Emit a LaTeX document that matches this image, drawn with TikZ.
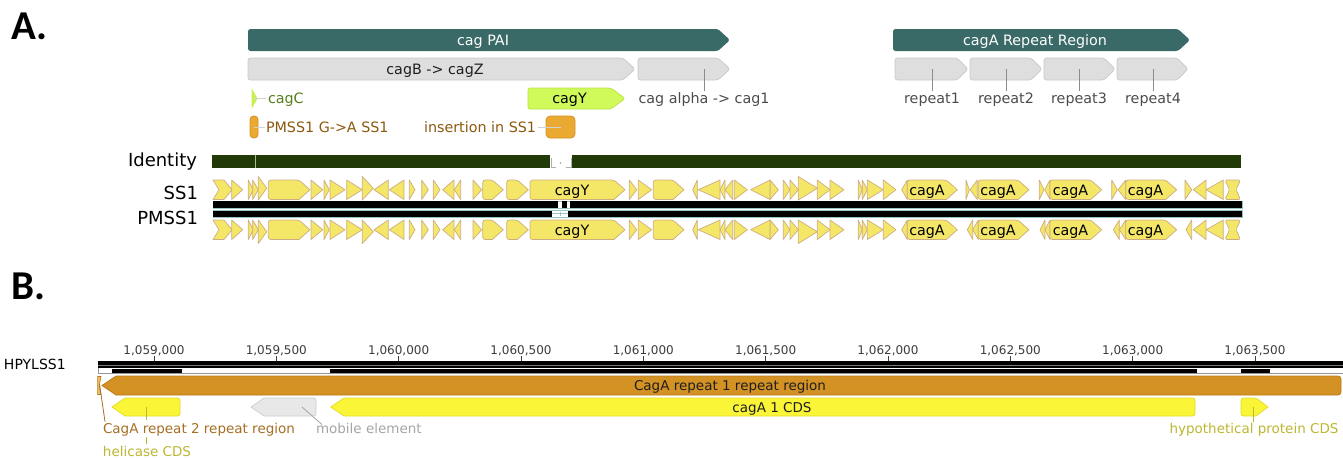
\documentclass[tikz,border=0pt]{standalone}
\usepackage{fontspec}
\setmainfont{DejaVu Sans}
\newfontfamily\carl{Carlito}
\usetikzlibrary{calc}
\definecolor{teal1}{RGB}{58,106,103}
\definecolor{greyfill}{RGB}{222,222,222}
\definecolor{greyline}{RGB}{200,200,200}
\definecolor{lbl}{RGB}{75,75,75}
\definecolor{darktext}{RGB}{30,30,30}
\definecolor{cagcfill}{RGB}{200,240,80}
\definecolor{cagctext}{RGB}{85,125,25}
\definecolor{cagyfill}{RGB}{208,250,90}
\definecolor{cagyline}{RGB}{185,225,70}
\definecolor{orfill}{RGB}{234,170,50}
\definecolor{orline}{RGB}{210,145,35}
\definecolor{brtext}{RGB}{140,88,15}
\definecolor{idgreen}{RGB}{33,58,8}
\definecolor{idlight}{RGB}{170,190,140}
\definecolor{gapgrey}{RGB}{175,175,175}
\definecolor{gapdot}{RGB}{160,160,160}
\definecolor{trackedge}{RGB}{150,195,195}
\definecolor{genefill}{RGB}{244,231,104}
\definecolor{geneline}{RGB}{205,172,130}
\definecolor{cagArep}{RGB}{212,146,36}
\definecolor{cagAline}{RGB}{185,120,20}
\definecolor{rep2fill}{RGB}{235,190,110}
\definecolor{bryellow}{RGB}{250,245,55}
\definecolor{bryline}{RGB}{228,218,40}
\definecolor{olive}{RGB}{188,182,48}
\definecolor{mobfill}{RGB}{232,232,232}
\definecolor{mobline}{RGB}{205,205,205}
\definecolor{mobtext}{RGB}{165,165,165}
\definecolor{reptext}{RGB}{165,110,35}
\definecolor{leadgrey}{RGB}{140,140,140}
\definecolor{llight}{RGB}{210,210,210}
\definecolor{ticktext}{RGB}{60,60,60}
\definecolor{rulerframe}{RGB}{150,150,150}
\definecolor{rulerline}{RGB}{120,120,120}
% gene glyph macros: x1 x2 top bottom
\newcommand\gR[4]{\draw[gene] (#1,#3) -- (#2,{(#3+#4)/2}) -- (#1,#4) -- cycle;}
\newcommand\gL[4]{\draw[gene] (#2,#3) -- (#1,{(#3+#4)/2}) -- (#2,#4) -- cycle;}
\newcommand\gP[4]{\draw[gene] ({#2-11},#3) -- (#2,{(#3+#4)/2}) -- ({#2-11},#4) [rounded corners=2.5] -- (#1,#4) -- (#1,#3) -- cycle;}
\newcommand\gChev[4]{\draw[gene] (#1,#3) -- ({#2-8},#3) -- (#2,{(#3+#4)/2}) -- ({#2-8},#4) -- (#1,#4) -- ({#1+6},{(#3+#4)/2}) -- cycle;}
\newcommand\gDbl[4]{\draw[gene,rounded corners=1.5] (#1,#3) -- (#2,#3) -- ({#2-4.5},{(#3+#4)/2}) -- (#2,#4) -- (#1,#4) -- ({#1+4.5},{(#3+#4)/2}) -- cycle;}
\def\commonR{231.7/242.7, 248.3/253.3, 252.7/258.3, 311/322.7, 324/329.3, 330/345, 346.7/362.3, 409.3/415, 421.7/428.3, 433.3/440, 473/481.7, 629.3/636.7, 638.3/651.7, 734.3/747.3, 770/778.3, 783.3/790, 790/798.3, 817.3/830, 830/844, 858.3/862.3, 862.3/867.3, 867.3/883.3, 883.3/896}
\def\commonL{374/388.3, 389.3/404, 442.7/454, 454.3/460.7, 692.7/697.3, 698.3/720, 720/725, 725/732.7, 750.7/770, 901.7/907.3, 1193.3/1206, 1206/1223.3}
\def\commonP{268.3/310, 482.7/503.3, 506.7/528.3, 530/625, 653.3/684, 907.3/957.3, 978.3/1029, 1050/1101.7, 1125.7/1176.7}
\def\tallR{258.3/266.7, 362.3/373.3, 798.3/817.3}
\begin{document}
\begin{tikzpicture}[x=1pt,y=-1pt,
  every node/.style={inner sep=0pt, outer sep=0pt},
  lab/.style={font=\fontsize{14.3}{17}\selectfont},
  blab/.style={font=\fontsize{13.5}{16}\selectfont},
  trk/.style={font=\fontsize{18}{20}\selectfont, anchor=base east},
  panel/.style={font=\carl\bfseries\fontsize{41}{41}\selectfont, anchor=base west},
  gene/.style={fill=genefill, draw=geneline, line width=0.7pt, line join=round},
  greybox/.style={fill=greyfill, draw=greyline, line width=0.7pt, rounded corners=2.5},
  lead/.style={draw=leadgrey, line width=0.8pt},
  leadl/.style={draw=llight, line width=1pt},
 ]
\useasboundingbox (0,0) rectangle (1343,459);

% ---------------- Panel A ----------------
\node[panel] (labA) at (11,39.5) {A.};

\fill[teal1, rounded corners=2.5] (248,29) -- (718,29) -- (730,40) -- (718,51) -- (248,51) -- cycle;
\node[lab, text=white, anchor=base] (pai) at (483,45) {cag PAI};
\fill[teal1, rounded corners=2.5] (893,29) -- (1178,29) -- (1190,40) -- (1178,51) -- (893,51) -- cycle;
\node[lab, text=white, anchor=base] (rr) at (1035,45) {cagA Repeat Region};

\draw[greybox] (248,58) -- (623,58) -- (635,69) -- (623,80) -- (248,80) -- cycle;
\node[lab, text=darktext, anchor=base] (cagBZ) at (435,74) {cagB -> cagZ};
\draw[greybox] (638,58) -- (718,58) -- (730,69) -- (718,80) -- (638,80) -- cycle;
\coordinate (alphaC) at (704,69);
\node[lab, text=lbl, anchor=base] (alphaL) at (704,103) {cag alpha -> cag1};
\draw[lead] (alphaC) -- ([yshift=1.5pt]alphaL.north);

\foreach \a/\b/\c/\n in {895/968/932/1, 970/1042/1006/2, 1044/1115/1079/3, 1117/1188/1153/4}{
  \draw[greybox] (\a,58) -- ({\b-11},58) -- (\b,69) -- ({\b-11},80) -- (\a,80) -- cycle;
  \coordinate (rep\n) at (\c,69);
  \node[lab, text=lbl, anchor=base] (rep\n L) at (\c,103) {repeat\n};
  \draw[lead] (rep\n) -- ([yshift=1.5pt]rep\n L.north);
}

% cagC
\fill[cagcfill] (251.5,88) -- (257.5,98.5) -- (251.5,109) -- cycle;
\coordinate (cagCc) at (254,98.5);
\node[lab, text=cagctext, anchor=base west] (cagCL) at (268,103.5) {cagC};
\draw[leadl] (cagCc) -- ([xshift=-2pt]cagCc -| cagCL.west);

% cagY annotation
\draw[fill=cagyfill, draw=cagyline, line width=0.7pt, rounded corners=2] (528,88) -- (611,88) -- (625,98.5) -- (611,109) -- (528,109) -- cycle;
\node[lab, anchor=base] (cagYA) at (569.5,103.5) {cagY};

% PMSS1 G->A SS1
\draw[fill=orfill, draw=orline, line width=0.7pt, rounded corners=3.5] (250,116) rectangle (258,138);
\coordinate (snp) at (254,127);
\node[lab, text=brtext, anchor=base west] (snpL) at (266,132) {PMSS1 G->A SS1};
\draw[leadl] (snp) -- ([xshift=-1.5pt]snp -| snpL.west);

% insertion in SS1
\draw[fill=orfill, draw=orline, line width=0.7pt, rounded corners=4] (546,116) rectangle (575,138);
\coordinate (ins) at (560.5,127);
\node[lab, text=brtext, anchor=base east] (insL) at (536,132) {insertion in SS1};
\draw[leadl] (ins) -- ([xshift=1.5pt]ins -| insL.east);

% Identity
\node[trk] (idL) at (197,166) {Identity};
\fill[idgreen] (212,154.5) rectangle (550,167.5);
\fill[idgreen] (571.5,154.5) rectangle (1241,167.5);
\draw[draw=idlight, line width=0.8pt] (255,154.5) -- (255,167.5);
\draw[draw=gapgrey, line width=0.6pt] (550.8,158) -- (550.8,167) -- (555.5,167);
\draw[draw=gapgrey, line width=0.6pt] (565.5,167) -- (570.8,167) -- (570.8,158);
\fill[gapdot] (560.5,163) circle (0.8);

% track labels
\node[trk] (ssL) at (198,199.5) {SS1};
\node[trk] (pmL) at (198,224) {PMSS1};

% sequence bars
\draw[draw=trackedge, fill=white, line width=0.6pt] (213,201) rectangle (1242,208.3);
\fill[black] (213.4,201.4) rectangle (558,207.9);
\fill[black] (562,201.4) rectangle (567,207.9);
\fill[black] (570,201.4) rectangle (1241.6,207.9);
\draw[draw=trackedge, fill=white, line width=0.6pt] (213,210.3) rectangle (1242,217.3);
\fill[black] (213.4,210.7) rectangle (552,216.9);
\fill[black] (568,210.7) rectangle (1241.6,216.9);
\draw[draw=trackedge, line width=0.8pt] (552,213.8) -- (568,213.8);
\draw[draw=trackedge, line width=0.8pt] (560.5,211.5) -- (560.5,216);

% SS1 genes
\gChev{213}{232}{180}{199.5}
\foreach \a/\b in \commonR {\gR{\a}{\b}{180}{199.5}}
\foreach \a/\b in {966/969.3, 1039.3/1044, 1111.7/1117.3, 1185/1191.7} {\gR{\a}{\b}{180}{199.5}}
\foreach \a/\b in \commonL {\gL{\a}{\b}{180}{199.5}}
\foreach \a/\b in {970/977.3, 1044.7/1050, 1118/1125.7} {\gL{\a}{\b}{180}{199.5}}
\foreach \a/\b in \tallR {\gR{\a}{\b}{176.5}{200}}
\foreach \a/\b in \commonP {\gP{\a}{\b}{180}{199.5}}
\gDbl{1225}{1240.5}{180}{199.5}
\node[lab, anchor=base] (ssY) at (572,195) {cagY};
\node[lab, anchor=base] (ssA1) at (927,195) {cagA};
\node[lab, anchor=base] (ssA2) at (998,195) {cagA};
\node[lab, anchor=base] (ssA3) at (1070.5,195) {cagA};
\node[lab, anchor=base] (ssA4) at (1145.5,195) {cagA};

% PMSS1 genes
\gChev{213}{232}{220}{239.5}
\foreach \a/\b in \commonR {\gR{\a}{\b}{220}{239.5}}
\foreach \a/\b in \commonL {\gL{\a}{\b}{220}{239.5}}
\foreach \a/\b in {967.3/972.7, 972.7/978.3, 1040/1045, 1045/1050, 1113.3/1119.3, 1119.3/1125.7, 1186/1191.7} {\gL{\a}{\b}{220}{239.5}}
\foreach \a/\b in \tallR {\gR{\a}{\b}{220}{243.5}}
\foreach \a/\b in \commonP {\gP{\a}{\b}{220}{239.5}}
\gDbl{1225}{1240.5}{220}{239.5}
\node[lab, anchor=base] (pmY) at (572,235) {cagY};
\node[lab, anchor=base] (pmA1) at (927,235) {cagA};
\node[lab, anchor=base] (pmA2) at (998,235) {cagA};
\node[lab, anchor=base] (pmA3) at (1070.5,235) {cagA};
\node[lab, anchor=base] (pmA4) at (1145.5,235) {cagA};

% ---------------- Panel B ----------------
\node[panel] (labB) at (11,299.5) {B.};
\node[font=\fontsize{14}{16}\selectfont, anchor=base west] (hpL) at (4,369) {HPYLSS1};

% ruler
\foreach \k/\t in {0/{1,059,000}, 1/{1,059,500}, 2/{1,060,000}, 3/{1,060,500}, 4/{1,061,000}, 5/{1,061,500}, 6/{1,062,000}, 7/{1,062,500}, 8/{1,063,000}, 9/{1,063,500}}{
  \pgfmathsetmacro\tx{154+122.33*\k}
  \node[font=\fontsize{12}{14}\selectfont, text=ticktext, anchor=base] (tk\k) at (\tx,354.5) {\t};
  \draw[draw=ticktext, line width=0.8pt] (\tx,356) -- (\tx,361.5);
}
\draw[draw=rulerframe, fill=white, line width=0.5pt] (98,361) rectangle (1343,373.5);
\fill[black] (98.3,361.3) rectangle (1343,368.4);
\draw[draw=rulerline, line width=0.4pt] (98.3,364.8) -- (1343,364.8);
\fill[black] (112,369.2) rectangle (182,373.2);
\fill[black] (330,369.2) rectangle (1197,373.2);
\fill[black] (1241,369.2) rectangle (1270,373.2);

% CagA repeat 1 repeat region
\draw[fill=cagArep, draw=cagAline, line width=0.7pt] (116,376) [rounded corners=3] -- (1341,376) -- (1341,395) [sharp corners] -- (116,395) -- (102,385.5) -- cycle;
\node[blab, text=darktext, anchor=base] (rep1L) at (730,390.5) {CagA repeat 1 repeat region};

% CagA repeat 2 (tiny)
\draw[fill=rep2fill, draw=cagAline, line width=0.6pt] (97.6,376.5) -- (101,376.5) -- (99.2,385.5) -- (101,394.5) -- (97.6,394.5) -- cycle;
\coordinate (rep2c) at (99.5,384);
\node[blab, text=reptext, anchor=base west] (rep2L) at (103,433.3) {CagA repeat 2 repeat region};
\draw[draw=reptext, line width=0.8pt] (rep2c) -- ($(rep2L.north west)+(2,-1.5)$);

% helicase CDS
\draw[fill=bryellow, draw=bryline, line width=0.7pt] (125,398) [rounded corners=2.5] -- (180,398) -- (180,416) [sharp corners] -- (125,416) -- (112,407) -- cycle;
\coordinate (helc) at (146,407);
\node[blab, text=olive, anchor=base] (helL) at (147,456.5) {helicase CDS};
\draw[draw=olive, line width=0.8pt] (helc) -- (146,419.5);
\draw[draw=olive, line width=0.8pt] (146,437) -- ([yshift=2pt]helL.north -| helc);

% mobile element
\draw[fill=mobfill, draw=mobline, line width=0.7pt] (264,398) [rounded corners=2.5] -- (316,398) -- (316,416) [sharp corners] -- (264,416) -- (251,407) -- cycle;
\coordinate (mobc) at (302,407);
\node[blab, text=mobtext, anchor=base west] (mobL) at (316,433.3) {mobile element};
\draw[draw=mobtext, line width=0.8pt] (mobc) -- ($(mobL.north west)+(6,1.5)$);

% cagA 1 CDS
\draw[fill=bryellow, draw=bryline, line width=0.7pt] (344,398) [rounded corners=2.5] -- (1195,398) -- (1195,416) [sharp corners] -- (344,416) -- (330.7,407) -- cycle;
\node[blab, text=darktext, anchor=base] (cagA1L) at (772,412) {cagA 1 CDS};

% hypothetical protein CDS
\draw[fill=bryellow, draw=bryline, line width=0.7pt] (1256,398) -- (1268,407) -- (1256,416) [rounded corners=2.5] -- (1241,416) -- (1241,398) -- cycle;
\coordinate (hypc) at (1253,407);
\node[blab, text=olive, anchor=base] (hypL) at (1254,433.3) {hypothetical protein CDS};
\draw[draw=olive, line width=0.8pt] (hypc) -- ([yshift=1pt]hypL.north -| hypc);
\end{tikzpicture}
\end{document}
